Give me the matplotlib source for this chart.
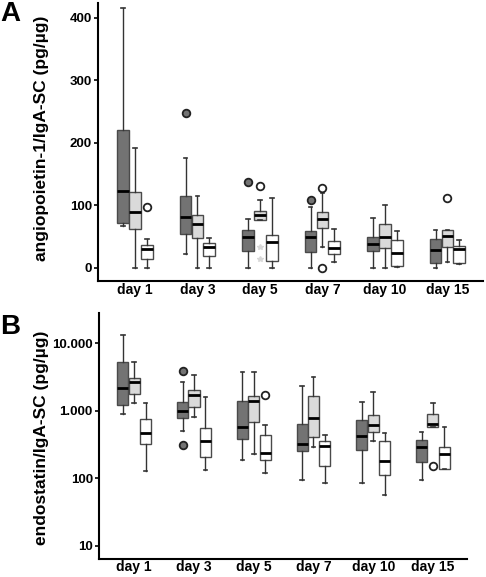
import matplotlib
matplotlib.use("Agg")
import matplotlib.pyplot as plt
import numpy as np

plt.rcParams['font.family'] = ['Liberation Sans', 'DejaVu Sans']
plt.rcParams['font.weight'] = 'bold'

days = ["day 1", "day 3", "day 5", "day 7", "day 10", "day 15"]

# Panel A: angiopoietin-1 -- rows per day: [whisker low, Q1, median, Q3, whisker high]
ang_dark = [[67, 72, 122.7, 220, 415],
            [22, 54, 81, 114, 175],
            [0, 27, 48.5, 61, 78],
            [0, 25.6, 49.6, 58.7, 96.5],
            [0, 26.7, 38.4, 49.6, 79],
            [0, 7, 28, 46.4, 61]]
ang_light = [[0, 62, 89.6, 120.5, 192],
             [0, 47.5, 70, 84, 114],
             [77, 77, 84, 91, 108],
             [32.5, 63.5, 78, 88.5, 119],
             [0, 31, 49.6, 70.4, 100.8],
             [9.6, 32.5, 51, 60, 60]]
ang_white = [[0, 14, 30, 37, 46],
             [0, 19, 33, 39.5, 48],
             [0, 10.7, 40.5, 53, 111],
             [9.6, 22, 31.5, 43, 62],
             [1, 3, 23, 44, 58],
             [6, 7, 30, 34, 44]]
ang_dark_out = [[], [247.5], [137], [107.7], [], []]
ang_light_out = [[], [], [131], [127, 0], [], [111.5]]
ang_white_out = [[96.5], [], [], [], [], []]
ang_light_extreme = [[], [], [33.6, 13.3], [], [], []]

# Panel B: endostatin
end_dark = [[900, 1236, 2160, 5350, 13280],
            [499, 776, 1008, 1371, 2710],
            [190, 378, 585, 1390, 3800],
            [94, 255, 327, 647, 2360],
            [86, 267, 430, 733, 1371],
            [95, 175, 295, 371, 492]]
end_light = [[1310, 1760, 2680, 3035, 5240],
             [822, 1129, 1738, 2037, 3435],
             [228, 685, 1390, 1665, 3725],
             [296, 406, 794, 1680, 3210],
             [359, 482, 625, 859, 1884],
             [578, 578, 640, 910, 1325]]
end_white = [[130, 327, 476, 767, 1310],
             [133, 210, 362, 565, 1589],
             [122, 190, 236, 435, 611],
             [86, 151, 306, 359, 440],
             [57, 114, 181, 362, 477],
             [140, 140, 228, 289, 585]]
end_dark_out = [[], [3935, 313], [], [], [], []]
end_light_out = [[], [], [], [], [], [151]]
end_white_out = [[], [], [1700], [], [], []]

b_ticks = [10, 100, 1000, 10000]
b_ticklabels = ["10", "100", "1.000", "10.000"]
a_ticks = [0, 100, 200, 300, 400]

fill_colors = ["#737373", "#dadada", "#ffffff"]
out_fill = ["#737373", "#ffffff", "#ffffff"]
offsets = [-0.19, 0.0, 0.19]
width = 0.185


def stats_of(rows, outs):
    res = []
    for r, o in zip(rows, outs):
        res.append(dict(whislo=r[0], q1=r[1], med=r[2], q3=r[3], whishi=r[4], fliers=o))
    return res


def draw(ax, groups, outs):
    pos0 = np.arange(len(days))
    for g, (rows, o) in enumerate(zip(groups, outs)):
        ax.bxp(stats_of(rows, o), positions=pos0 + offsets[g], widths=width,
               patch_artist=True, showfliers=True, capwidths=0.06,
               boxprops=dict(facecolor=fill_colors[g], edgecolor="#4a4a4a", linewidth=1.0),
               medianprops=dict(color="black", linewidth=2.0),
               whiskerprops=dict(color="#333333", linewidth=1.0),
               capprops=dict(color="#333333", linewidth=1.2),
               flierprops=dict(marker='o', markersize=5.5, markerfacecolor=out_fill[g],
                               markeredgecolor="#222222", markeredgewidth=1.3))


fig = plt.figure(figsize=(4.86, 5.77), dpi=100)
axA = fig.add_axes([98 / 486, 1 - 281 / 577, (483 - 98) / 486, (281 - 3) / 577])
axB = fig.add_axes([99 / 486, 1 - 559 / 577, (467 - 99) / 486, (559 - 313) / 577])

draw(axA, [ang_dark, ang_light, ang_white], [ang_dark_out, ang_light_out, ang_white_out])
for i, ex in enumerate(ang_light_extreme):
    for v in ex:
        axA.plot(i + offsets[1], v, marker='*', color="#d8d8d8", markersize=4, linestyle='none')
axA.set_ylim(-21.3, 423.2)
axA.set_yticks(a_ticks)

draw(axB, [end_dark, end_light, end_white], [end_dark_out, end_light_out, end_white_out])
axB.set_yscale('log')
axB.set_ylim(6.42, 28050)
axB.yaxis.set_major_locator(matplotlib.ticker.FixedLocator(b_ticks))
axB.yaxis.set_minor_locator(matplotlib.ticker.NullLocator())
axB.set_yticklabels(b_ticklabels)

for ax, xpad in ((axA, 1.5), (axB, 0.5)):
    ax.set_xlim(-0.59, 5.57)
    ax.set_xticks(np.arange(len(days)))
    ax.set_xticklabels(days)
    for s in ("top", "right"):
        ax.spines[s].set_visible(False)
    for s in ("left", "bottom"):
        ax.spines[s].set_linewidth(1.5)
    ax.tick_params(axis='x', length=0, pad=xpad, labelsize=10)
    ax.tick_params(axis='y', length=3, width=1.2, direction='out', pad=1.5, labelsize=9.5)
    for lab in ax.get_xticklabels() + ax.get_yticklabels():
        lab.set_fontweight('bold')

fig.text(42 / 486, 1 - 138 / 577, "angiopoietin-1/IgA-SC (pg/µg)", rotation=90,
         ha='center', va='center', fontsize=12.5, fontweight='bold')
fig.text(42 / 486, 1 - 438 / 577, "endostatin/IgA-SC (pg/µg)", rotation=90,
         ha='center', va='center', fontsize=12.5, fontweight='bold')
fig.text(0.0, 1 - 1 / 577, "A", ha='left', va='top', fontsize=20, fontweight='bold')
fig.text(0.0, 1 - 314 / 577, "B", ha='left', va='top', fontsize=20, fontweight='bold')

fig.savefig("out.png", dpi=100)
